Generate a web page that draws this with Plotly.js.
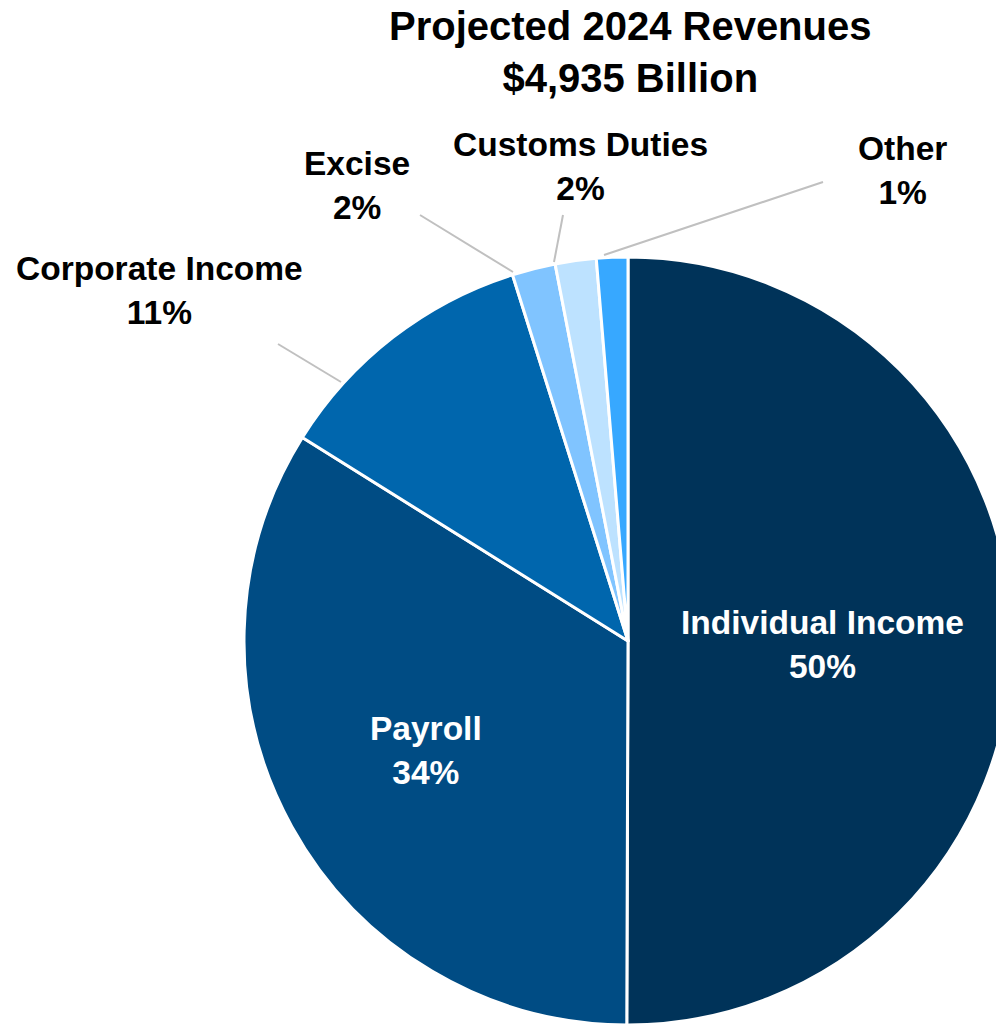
<!DOCTYPE html>
<html>
<head>
<meta charset="utf-8">
<script src="https://cdn.plot.ly/plotly-3.0.1.min.js"></script>
<style>
html,body{margin:0;padding:0;overflow:hidden;background:#fff;width:996px;height:1026px;}
#chart{width:1300px;height:1026px;}
</style>
</head>
<body>
<div id="chart"></div>
<script>
// Data (billions of dollars, projected 2024)
const categories = ["Individual Income", "Payroll", "Corporate Income", "Excise", "Customs Duties", "Other"];
const values = [2470, 1670, 555, 90, 85, 65];
const percentLabels = ["50%", "34%", "11%", "2%", "2%", "1%"];
const titleLines = ["Projected 2024 Revenues", "$4,935 Billion"];
const colors = ["#003359", "#004c84", "#0066ad", "#80c4ff", "#bde2ff", "#37a8ff"];

const W = 1300, H = 1026;
const X = px => px / W;
const Y = py => 1 - py / H;

// label centres (pixel) and leader lines
const labelPos = [
  [822, 644, "white"],
  [426, 750, "white"],
  [159, 290, "black"],
  [357, 185, "black"],
  [580, 167, "black"],
  [902, 171, "black"]
];
const leaders = [
  null, null,
  [278, 344, 341, 382],
  [420, 215, 513, 272],
  [563, 215, 554, 262],
  [823, 182, 604, 255]
];

const fontFam = "Liberation Sans, Arial, sans-serif";

const trace = {
  type: "pie",
  labels: categories,
  values: values,
  sort: false,
  direction: "clockwise",
  rotation: 0,
  textinfo: "none",
  hoverinfo: "label+percent",
  marker: {colors: colors, line: {color: "#ffffff", width: 3}},
  domain: {x: [X(244), X(1012)], y: [1 / H, 769 / H]},
  showlegend: false
};

const annotations = categories.map((c, i) => ({
  xref: "paper", yref: "paper",
  x: X(labelPos[i][0]), y: Y(labelPos[i][1]),
  xanchor: "center", yanchor: "middle",
  text: c + "<br>" + percentLabels[i],
  showarrow: false,
  font: {family: fontFam, size: 33.5, color: labelPos[i][2], weight: "bold"}
}));

annotations.push({
  xref: "paper", yref: "paper",
  x: X(630), y: Y(52),
  xanchor: "center", yanchor: "middle",
  text: titleLines.join("<br>"),
  showarrow: false,
  font: {family: fontFam, size: 40, color: "#000000", weight: "bold"}
});

const shapes = leaders.filter(l => l).map(l => ({
  type: "line", xref: "paper", yref: "paper",
  x0: X(l[0]), y0: Y(l[1]), x1: X(l[2]), y1: Y(l[3]),
  line: {color: "#c0c0c0", width: 2}
}));

const layout = {
  width: W, height: H,
  margin: {l: 0, r: 0, t: 0, b: 0},
  paper_bgcolor: "#ffffff",
  annotations: annotations,
  shapes: shapes
};

Plotly.newPlot("chart", [trace], layout, {displayModeBar: false, staticPlot: true});
</script>
</body>
</html>
